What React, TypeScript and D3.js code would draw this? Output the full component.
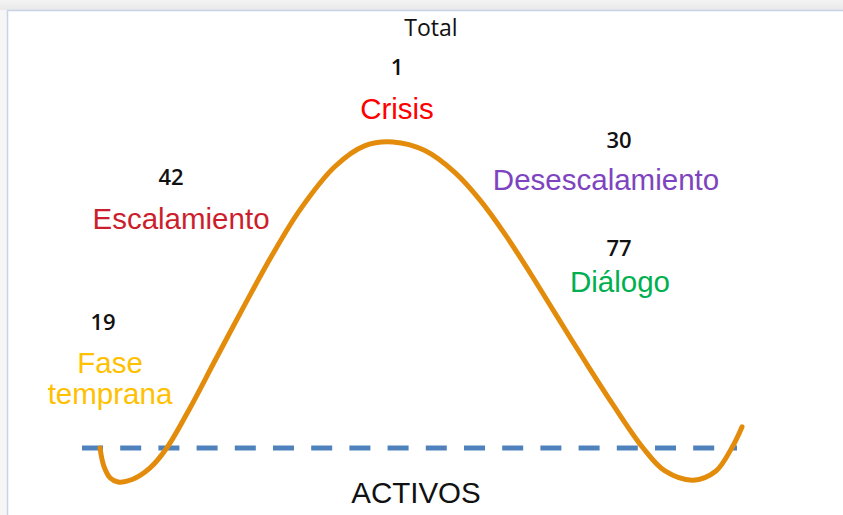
import React from "react";
import * as d3 from "d3";

// Curve of the conflict cycle (x: time 0..100, y: intensity, 0 = baseline "ACTIVOS")
const curveX = [0, 0.6, 1.6, 2.8, 5.0, 7.8, 10.4, 14.0, 17.9, 22.6, 26.8, 31.2, 36.6, 41.3, 45.6, 50.6, 55.3, 59.2, 63.1, 67.0, 70.9, 75.5, 79.8, 84.6, 88.0, 92.4, 95.9, 98.4, 100];
const curveY = [0, -5.9, -9.8, -11.1, -10.3, -6.5, 0, 13.0, 28.5, 47.0, 63.0, 78.0, 92.0, 98.8, 100, 97.2, 90.0, 81.0, 69.8, 57.2, 44.0, 28.5, 14.5, 0, -7.5, -10.5, -7.6, 0, 6.9];

const phaseNames = ["Fase temprana", "Escalamiento", "Crisis", "Desescalamiento", "Diálogo"];
const phaseCounts = [19, 42, 1, 30, 77];
const phaseColors = ["#FFC000", "#CC1F2D", "#FF0000", "#7E44C0", "#00B050"];

const title = "Total";
const baselineLabel = "ACTIVOS";

const W = 843;
const H = 515;

export default function App() {
  const x = d3.scaleLinear().domain([0, 100]).range([100, 742]);
  const y = d3.scaleLinear().domain([0, 100]).range([448, 142]);

  const pts: [number, number][] = curveX.map((v, i) => [v, curveY[i]]);
  const line = d3
    .line<[number, number]>()
    .x((d) => x(d[0]))
    .y((d) => y(d[1]))
    .curve(d3.curveCatmullRom.alpha(0.5));

  // label layout
  const layout = [
    { cx: 103, cy: 330, nx: 110, ny: 373 },
    { cx: 171, cy: 185, nx: 181, ny: 229 },
    { cx: 397, cy: 75, nx: 397, ny: 119 },
    { cx: 619, cy: 148, nx: 606, ny: 190 },
    { cx: 619, cy: 256, nx: 620, ny: 292 },
  ];

  const labelFont = "'Liberation Sans', Arial, sans-serif";
  const numFont = "'Open Sans', 'DejaVu Sans', sans-serif";

  return (
    <svg
      width={W}
      height={H}
      style={{ position: "absolute", left: 0, top: 0, display: "block" }}
    >
      <defs>
        <linearGradient id="topg" x1="0" y1="0" x2="0" y2="1">
          <stop offset="0" stopColor="#f3f3f3" />
          <stop offset="1" stopColor="#e9e9e9" />
        </linearGradient>
      </defs>
      <rect x={0} y={0} width={W} height={H} fill="#f6f6f6" />
      <rect x={0} y={0} width={W} height={10} fill="url(#topg)" />
      <rect x={7.5} y={10.5} width={W} height={H} fill="#ffffff" stroke="#c9d3e8" strokeWidth={1.5} />

      <line
        x1={82}
        x2={737}
        y1={y(0)}
        y2={y(0)}
        stroke="#4F81BD"
        strokeWidth={5}
        strokeDasharray="21 17.2"
      />
      <path d={line(pts) || ""} fill="none" stroke="#E38B0B" strokeWidth={5} strokeLinecap="round" strokeLinejoin="round" />

      <text x={431} y={36} textAnchor="middle" fontFamily={numFont} fontSize={23} fill="#111">
        {title}
      </text>

      {phaseNames.map((name, i) => {
        const L = layout[i];
        const lines = name === "Fase temprana" ? ["Fase", "temprana"] : [name];
        return (
          <g key={name}>
            <text x={L.cx} y={L.cy} textAnchor="middle" fontFamily={numFont} fontSize={22} fontWeight={600} fill="#111">
              {phaseCounts[i]}
            </text>
            {lines.map((t, j) => (
              <text
                key={t}
                x={L.nx}
                y={L.ny + j * 31}
                textAnchor="middle"
                fontFamily={labelFont}
                fontSize={29.5}
                fill={phaseColors[i]}
              >
                {t}
              </text>
            ))}
          </g>
        );
      })}

      <text x={416} y={503} textAnchor="middle" fontFamily={labelFont} fontSize={29.5} fill="#111">
        {baselineLabel}
      </text>
    </svg>
  );
}
